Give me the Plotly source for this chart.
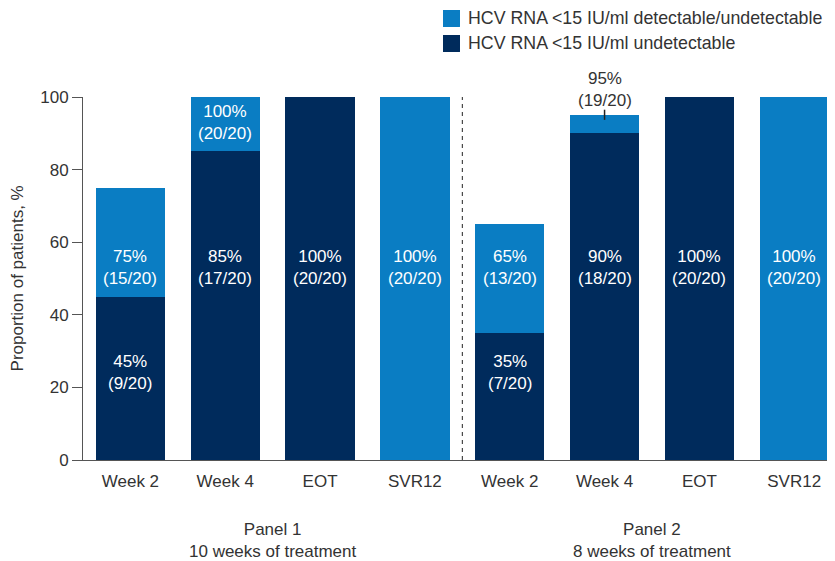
import plotly.graph_objects as go

# ---- data ----
categories = ["Week 2", "Week 4", "EOT", "SVR12", "Week 2", "Week 4", "EOT", "SVR12"]
n_total_pts = 20
n_undetectable = [9, 17, 20, 0, 7, 18, 20, 0]          # <15 IU/ml undetectable
n_detect_or_undet = [15, 20, 20, 20, 13, 19, 20, 20]   # <15 IU/ml detectable/undetectable
show_undet_label = [True, True, True, False, True, True, True, False]
show_total_label = [True, True, False, True, True, True, False, True]
panel_labels = ["Panel 1<br>10 weeks of treatment", "Panel 2<br>8 weeks of treatment"]
legend_names = ["HCV RNA <15 IU/ml detectable/undetectable", "HCV RNA <15 IU/ml undetectable"]
y_ticks = [0, 20, 40, 60, 80, 100]

pct_undet = [n / n_total_pts * 100 for n in n_undetectable]
pct_total = [n / n_total_pts * 100 for n in n_detect_or_undet]
pct_extra = [t - u for t, u in zip(pct_total, pct_undet)]

LIGHT = "#0a7dc3"
DARK = "#002b5c"
TXT = "#333333"
AX = "#555555"
FONT = "Liberation Sans, Arial, sans-serif"
Y_MAX = 100

x = list(range(len(categories)))

fig = go.Figure()
fig.add_trace(go.Bar(x=x, y=pct_undet, marker=dict(color=DARK, line=dict(width=0)),
                     width=0.73, name=legend_names[1], showlegend=False))
fig.add_trace(go.Bar(x=x, y=pct_extra, marker=dict(color=LIGHT, line=dict(width=0)),
                     width=0.73, name=legend_names[0], showlegend=False))

# label placements (layout only)
undet_label_y = [24, 53, 53, None, 24, 53, 53, None]
total_label_y = [53, 93, None, 53, 53, 102.2, None, 53]

annotations = []
for i in x:
    if show_undet_label[i]:
        annotations.append(dict(x=i, y=undet_label_y[i] / Y_MAX, xref="x", yref="paper",
                                xanchor="center", yanchor="middle",
                                text=f"{pct_undet[i]:.0f}%<br>({n_undetectable[i]}/{n_total_pts})",
                                showarrow=False, font=dict(size=17, color="white", family=FONT)))
    if show_total_label[i]:
        outside = total_label_y[i] > pct_total[i]
        annotations.append(dict(x=i, y=total_label_y[i] / Y_MAX, xref="x", yref="paper",
                                xanchor="center", yanchor="middle",
                                text=f"{pct_total[i]:.0f}%<br>({n_detect_or_undet[i]}/{n_total_pts})",
                                showarrow=False,
                                font=dict(size=17, color=TXT if outside else "white", family=FONT)))
        if outside:
            fig.add_shape(type="line", xref="x", yref="y", x0=i, x1=i,
                          y0=pct_total[i] - 1.3, y1=pct_total[i] + 1.5,
                          line=dict(color="#222222", width=1.5))

# panel labels
for j, lab in enumerate(panel_labels):
    annotations.append(dict(x=1.5 + 4 * j, y=-0.2218, xref="x", yref="paper", text=lab,
                            xanchor="center", yanchor="middle",
                            showarrow=False, font=dict(size=17, color=TXT, family=FONT)))

# custom legend
leg_colors = [LIGHT, DARK]
for k in range(2):
    top = 1.2397 - k * 0.0689
    fig.add_shape(type="rect", xref="paper", yref="paper", x0=0.4787, x1=0.5013,
                  y0=top - 0.0468, y1=top, fillcolor=leg_colors[k], line=dict(width=0))
    annotations.append(dict(x=0.5093, y=top - 0.0234, xref="paper", yref="paper",
                            xanchor="left", yanchor="middle", text=legend_names[k], showarrow=False,
                            font=dict(size=17.8, color=TXT, family=FONT)))

# y axis title
annotations.append(dict(x=-0.0865, y=0.5, xref="paper", yref="paper", text="Proportion of patients, %",
                        xanchor="center", yanchor="middle",
                        textangle=-90, showarrow=False, font=dict(size=17, color=TXT, family=FONT)))

# dashed separator
fig.add_shape(type="line", xref="x", yref="y", x0=3.5, x1=3.5, y0=0, y1=Y_MAX,
              line=dict(color="#222222", width=1, dash="4px,4px"))

fig.update_layout(
    width=827, height=553,
    margin=dict(l=75, r=0, t=89, b=101),
    barmode="stack",
    plot_bgcolor="white", paper_bgcolor="white",
    font=dict(family=FONT, size=17, color=TXT),
    annotations=annotations,
    showlegend=False,
)
fig.update_xaxes(range=[-0.5, 7.43], tickvals=x, ticktext=categories, showline=True,
                 linecolor=AX, linewidth=1, ticks="outside", ticklen=6, tickcolor="rgba(0,0,0,0)",
                 showgrid=False, zeroline=False, tickfont=dict(size=17, color=TXT))
fig.update_yaxes(range=[0, Y_MAX], tickvals=y_ticks, showline=True, linecolor=AX, linewidth=1,
                 ticks="outside", ticklen=10, tickcolor=AX, showgrid=False, zeroline=False,
                 tickfont=dict(size=17, color=TXT))

fig.write_html("out.html")
